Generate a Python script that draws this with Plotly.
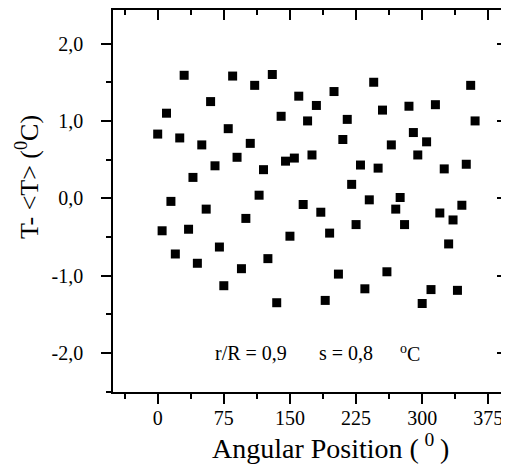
import plotly.graph_objects as go

# Data
angles = [0, 5, 10, 15, 20, 25, 30, 35, 40, 45, 50, 55, 60, 65, 70, 75, 80, 85, 90, 95,
          100, 105, 110, 115, 120, 125, 130, 135, 140, 145, 150, 155, 160, 165, 170, 175,
          180, 185, 190, 195, 200, 205, 210, 215, 220, 225, 230, 235, 240, 245, 250, 255,
          260, 265, 270, 275, 280, 285, 290, 295, 300, 305, 310, 315, 320, 325, 330, 335,
          340, 345, 350, 355, 360]
dT = [0.83, -0.42, 1.10, -0.04, -0.72, 0.78, 1.59, -0.40, 0.27, -0.84, 0.69, -0.14,
      1.25, 0.42, -0.63, -1.13, 0.90, 1.58, 0.53, -0.91, -0.26, 0.71, 1.46, 0.04,
      0.37, -0.78, 1.60, -1.35, 1.06, 0.48, -0.49, 0.52, 1.32, -0.08, 1.00, 0.56,
      1.20, -0.18, -1.32, -0.45, 1.38, -0.98, 0.76, 1.02, 0.18, -0.34, 0.43, -1.17,
      -0.02, 1.50, 0.39, 1.14, -0.95, 0.69, -0.14, 0.01, -0.34, 1.19, 0.85, 0.56,
      -1.36, 0.73, -1.18, 1.21, -0.19, 0.38, -0.59, -0.28, -1.19, -0.09, 0.44, 1.46, 1.00]

x_tickvals = [0, 75, 150, 225, 300, 375]
x_ticktext = ["0", "75", "150", "225", "300", "375"]
y_tickvals = [-2, -1, 0, 1, 2]
y_ticktext = ["-2,0", "-1,0", "0,0", "1,0", "2,0"]

x_title = "Angular Position (\u2009<sup>0</sup>\u2009)"
y_title = "T- &lt;T&gt; (<sup>0</sup>C)"

XR = [-50.7, 396.2]
YR = [-2.504, 2.434]
FONT = "Liberation Serif, Times New Roman, serif"

fig = go.Figure()
fig.add_trace(go.Scatter(x=angles, y=dT, mode="markers",
                         marker=dict(symbol="square", size=9, color="black",
                                     line=dict(width=0)),
                         showlegend=False, hoverinfo="skip"))
# empty helper traces so the extra axes (top ticks, right ticks, bottom labels) exist
fig.add_trace(go.Scatter(x=[None], y=[None], xaxis="x2", yaxis="y",
                         showlegend=False, hoverinfo="skip"))
fig.add_trace(go.Scatter(x=[None], y=[None], xaxis="x", yaxis="y2",
                         showlegend=False, hoverinfo="skip"))
fig.add_trace(go.Scatter(x=[None], y=[None], xaxis="x3", yaxis="y",
                         showlegend=False, hoverinfo="skip"))

axis_common = dict(showgrid=False, zeroline=False, showline=True, linecolor="black",
                   linewidth=1.5, tickcolor="black", tickwidth=1.5, ticklen=10)

# the page body keeps its default 8px margin, so the figure is sized to fit
fig.update_layout(
    width=501, height=466, autosize=False,
    margin=dict(l=105, r=2, t=2, b=82),
    paper_bgcolor="white", plot_bgcolor="white",
    font=dict(family=FONT, color="black", size=20),
    hovermode=False,
    xaxis=dict(range=XR, tickmode="array", tickvals=x_tickvals, showticklabels=False,
               ticks="outside",
               minor=dict(ticks="outside", dtick=37.5, tick0=0, ticklen=5,
                          tickwidth=1.5, tickcolor="black"),
               **axis_common),
    xaxis3=dict(range=XR, overlaying="x", side="bottom", anchor="y",
                tickmode="array", tickvals=x_tickvals, ticktext=x_ticktext,
                ticks="", showline=False, showgrid=False, zeroline=False,
                tickfont=dict(size=20, family=FONT), ticklabelstandoff=12),
    yaxis=dict(range=YR, tickmode="array", tickvals=y_tickvals, ticktext=y_ticktext,
               ticks="outside", tickfont=dict(size=20, family=FONT),
               ticklabelstandoff=14,
               minor=dict(ticks="outside", dtick=0.5, tick0=0, ticklen=5,
                          tickwidth=1.5, tickcolor="black"),
               **axis_common),
    xaxis2=dict(range=XR, overlaying="x", side="top", anchor="y",
                tickmode="array", tickvals=x_tickvals, showticklabels=False,
                ticks="inside",
                minor=dict(ticks="inside", dtick=37.5, tick0=0, ticklen=5,
                           tickwidth=1.5, tickcolor="black"),
                **axis_common),
    yaxis2=dict(range=YR, overlaying="y", side="right", anchor="x",
                tickmode="array", tickvals=y_tickvals, showticklabels=False,
                ticks="inside",
                minor=dict(ticks="inside", dtick=0.5, tick0=0, ticklen=5,
                           tickwidth=1.5, tickcolor="black"),
                **axis_common),
)

# axis titles (off-centre in the reference, so placed as annotations)
fig.add_annotation(x=0.552, y=-0.1414, xref="paper", yref="paper", text=x_title,
                   showarrow=False, xanchor="center", yanchor="middle",
                   font=dict(size=28, family=FONT, color="black"))
fig.add_annotation(x=-0.2183, y=0.5628, xref="paper", yref="paper", text=y_title,
                   textangle=-90, showarrow=False, xanchor="center", yanchor="middle",
                   font=dict(size=26, family=FONT, color="black"))

ann_font = dict(size=20, family=FONT, color="black")
fig.add_annotation(x=63, y=-2.0, xref="x", yref="y", text="r/R = 0,9",
                   showarrow=False, xanchor="left", yanchor="middle", font=ann_font)
fig.add_annotation(x=181, y=-2.0, xref="x", yref="y", text="s = 0,8",
                   showarrow=False, xanchor="left", yanchor="middle", font=ann_font)
fig.add_annotation(x=272, y=-2.0, xref="x", yref="y", text="<sup>o</sup>C",
                   showarrow=False, xanchor="left", yanchor="middle", font=ann_font)

fig.write_html("out.html", config={"displayModeBar": False, "responsive": False})
